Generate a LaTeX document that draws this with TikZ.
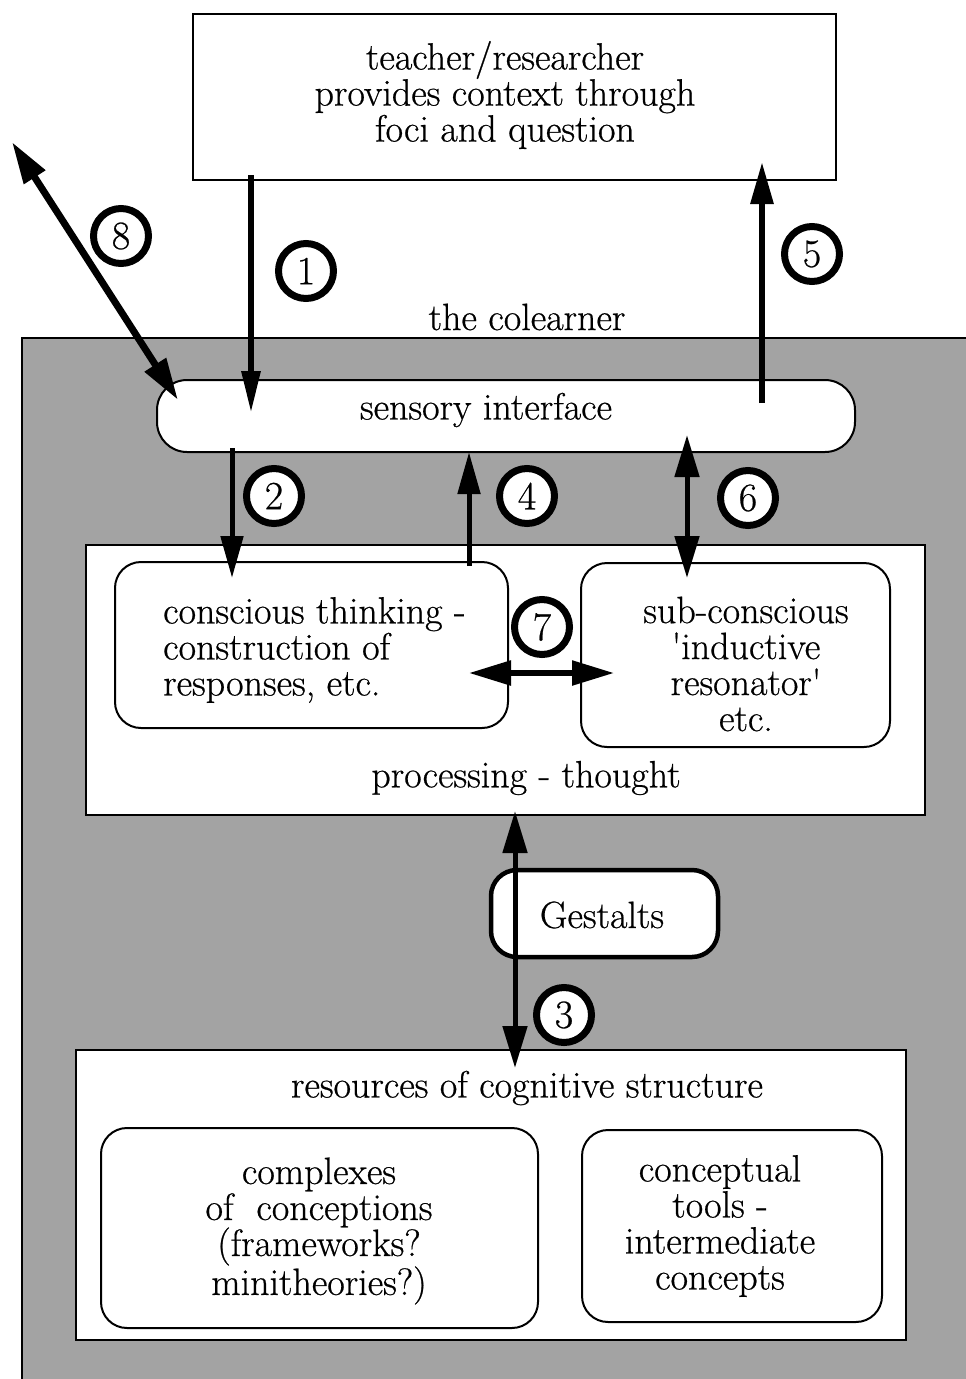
\documentclass[tikz,border=0pt]{standalone}
\usepackage{fontspec}
\usetikzlibrary{arrows.meta}
\newfontfamily\labelfont{Latin Modern Roman}[BoldFont={Latin Modern Roman}, BoldFeatures={FakeBold=0.6}]
\definecolor{screen}{gray}{0.64}
\begin{document}
\begin{tikzpicture}[x=1pt,y=-1pt,
  txt/.style={font=\labelfont\bfseries\fontsize{38}{36}\selectfont, inner sep=0pt, align=center},
  plainbox/.style={draw, line width=2pt, fill=white, inner sep=0pt},
  roundbox/.style={plainbox, rounded corners=26pt},
  num/.style={circle, draw, line width=7pt, fill=white, minimum size=55pt, inner sep=0pt,
              font=\labelfont\bfseries\fontsize{40}{40}\selectfont},
  arr/.style={line width=6pt, -{Triangle[length=42pt,width=22pt]}},
  darr/.style={line width=6pt, {Triangle[length=42pt,width=24pt]}-{Triangle[length=42pt,width=24pt]}}
]
\clip (0,0) rectangle (966,1379);
\fill[white] (0,0) rectangle (966,1379);

% the colearner: screened region
\node[txt] (colearner) at (527,317) {the colearner};
\filldraw[fill=screen, draw=black, line width=2pt] (22,338) rectangle (980,1395);

% boxes
\node[plainbox, minimum width=643pt, minimum height=166pt] (teacher) at (514.5,97) {};
\node[txt] (teachertext) at (505,95) {teacher/researcher\\provides context through\\foci and question};

\node[roundbox, minimum width=698pt, minimum height=72pt, rounded corners=30pt] (sensory) at (506,416) {};
\node[txt] (sensorytext) at (486,410) {sensory interface};

\node[plainbox, minimum width=839pt, minimum height=270pt] (processing) at (505.5,680) {};
\node[txt] (processingtext) at (526,778) {processing - thought};

\node[roundbox, minimum width=393pt, minimum height=166pt] (conscious) at (311.5,645) {};
\node[txt, anchor=west, align=left] (conscioustext) at (163,650) {conscious thinking -\\construction of\\responses, etc.};

\node[roundbox, minimum width=309pt, minimum height=184pt] (subcon) at (735.5,655) {};
\node[txt] (subcontext) at (746,664) {sub-conscious\\\textquotesingle inductive\\resonator\textquotesingle\\etc.};

\node[roundbox, line width=4.5pt, minimum width=227pt, minimum height=87pt] (gestalts) at (604.5,913.5) {};
\node[txt] (gestaltstext) at (602,915) {Gestalts};

\node[plainbox, minimum width=830pt, minimum height=290pt] (resources) at (491,1195) {};
\node[txt] (resourcestext) at (527,1088) {resources of cognitive structure};

\node[roundbox, minimum width=437pt, minimum height=200pt] (complexes) at (319.5,1228) {};
\node[txt] (complexestext) at (319,1231) {complexes\\of\ \ conceptions\\(frameworks?\\minitheories?)};

\node[roundbox, minimum width=300pt, minimum height=192pt] (tools) at (732,1226) {};
\node[txt] (toolstext) at (720,1226) {conceptual\\tools -\\intermediate\\concepts};

% connector end points
\coordinate (a1s) at (251,175);   \coordinate (a1e) at (251,413);
\coordinate (a5s) at (762,403);   \coordinate (a5e) at (762,162);
\coordinate (a8s) at (12,142);    \coordinate (a8e) at (178,400);
\coordinate (a2s) at (232,448);   \coordinate (a2e) at (232,578);
\coordinate (a4s) at (469,566);   \coordinate (a4e) at (469,452);
\coordinate (a6s) at (687,435);   \coordinate (a6e) at (687,578);
\coordinate (a7s) at (469,673);   \coordinate (a7e) at (614,673);
\coordinate (a3s) at (515,811);   \coordinate (a3e) at (515,1068);

% connectors
\draw[arr, -{Triangle[length=42pt,width=18pt]}] (a1s) -- (a1e);
\draw[arr] (a5s) -- (a5e);
\draw[darr, line width=7pt] (a8s) -- (a8e);
\draw[arr, line width=5pt] (a2s) -- (a2e);
\draw[arr, line width=5pt] (a4s) -- (a4e);
\draw[darr, line width=5pt] (a6s) -- (a6e);
\draw[darr, line width=5.5pt] (a7s) -- (a7e);
\draw[darr, line width=5pt] (a3s) -- (a3e);

% step numbers
\node[num] (n8) at (121,236) {8};
\node[num] (n1) at (306,271) {1};
\node[num] (n5) at (812,254) {5};
\node[num] (n2) at (274,496) {2};
\node[num] (n4) at (527,496) {4};
\node[num] (n6) at (748,498) {6};
\node[num] (n7) at (542,627) {7};
\node[num] (n3) at (564,1015) {3};
\end{tikzpicture}
\end{document}
